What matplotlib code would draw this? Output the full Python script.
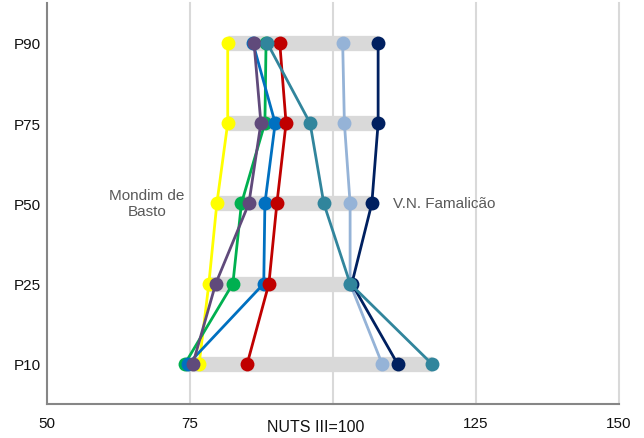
import matplotlib
matplotlib.use("Agg")
import matplotlib.pyplot as plt

# percentile rows (bottom to top)
percentiles = ["P10", "P25", "P50", "P75", "P90"]

# index values (NUTS III = 100) per municipality, P10..P90
yellow = [76.6, 78.3, 79.7, 81.6, 81.6]      # Mondim de Basto
green = [74.1, 82.5, 84.0, 88.1, 88.3]
blue = [74.7, 87.9, 88.1, 89.9, 86.0]
purple = [75.5, 79.5, 85.3, 87.4, 86.2]
red = [85.0, 88.8, 90.2, 91.8, 90.7]
lightblue = [108.6, 103.0, 103.0, 102.0, 101.7]
navy = [111.3, 103.3, 106.8, 107.9, 107.9]   # V.N. Famalicao
teal = [117.3, 103.0, 98.4, 96.0, 88.5]

series = [
    (yellow, "#ffff00"),
    (green, "#00b050"),
    (blue, "#0070c0"),
    (purple, "#604a7b"),
    (red, "#c00000"),
    (lightblue, "#95b3d7"),
    (navy, "#002060"),
    (teal, "#31859c"),
]

xticks = [50, 75, 100, 125, 150]
xticklabels = ["50", "75", "", "125", "150"]

plt.rcParams["font.family"] = ["Liberation Sans", "DejaVu Sans"]
fig = plt.figure(figsize=(6.44, 4.39), dpi=100)
ax = fig.add_axes([0.073, 0.0774, 0.888, 0.914])

ypos = list(range(1, len(percentiles) + 1))

for x in xticks[1:]:
    ax.axvline(x, color="#d9d9d9", lw=1.5, zorder=0, clip_on=False)

# grey range band per percentile row
for i, y in enumerate(ypos):
    vals = [s[0][i] for s in series]
    ax.plot([min(vals), max(vals)], [y, y], color="#d9d9d9", lw=11,
            solid_capstyle="butt", zorder=1)

for vals, col in series:
    ax.plot(vals, ypos, color=col, lw=2, marker="o", markersize=10,
            markeredgewidth=0, zorder=3)

ax.set_xlim(50, 150)
ax.set_ylim(0.5, 5.5)
ax.set_xticks(xticks)
ax.set_xticklabels(xticklabels, fontsize=11)
ax.set_yticks(ypos)
ax.set_yticklabels(percentiles, fontsize=11)
ax.tick_params(axis="both", length=0, colors="#111111")
ax.tick_params(axis="x", pad=8.5)
ax.tick_params(axis="y", pad=4.5)

for side in ["top", "right"]:
    ax.spines[side].set_visible(False)
for side in ["left", "bottom"]:
    ax.spines[side].set_color("#868686")
    ax.spines[side].set_linewidth(1.5)

ax.set_xlabel("NUTS III=100", fontsize=11.5, color="#111111")
ax.xaxis.set_label_coords(0.47, -0.037)

ax.text(67.5, 3, "Mondim de\nBasto", ha="center", va="center", fontsize=11,
        color="#595959")
ax.text(110.5, 3, "V.N. Famalicão", ha="left", va="center", fontsize=11,
        color="#595959")

fig.savefig("out.png", dpi=100)
